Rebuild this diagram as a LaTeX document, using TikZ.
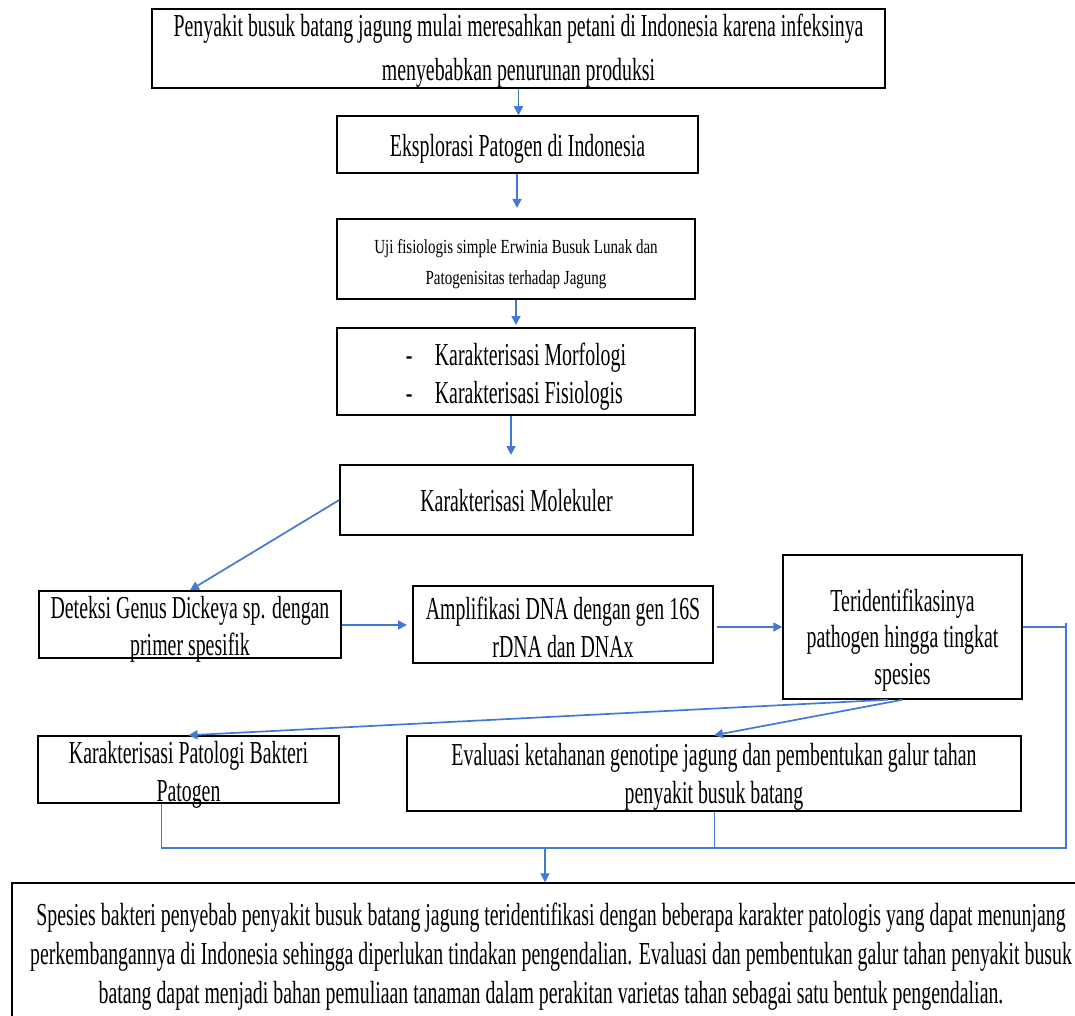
\documentclass[tikz,border=0pt]{standalone}
\usepackage{fontspec}
\setmainfont{Liberation Serif}[FakeStretch=0.62]
\newfontfamily\smallserif{Liberation Serif}[FakeStretch=0.75]
\usetikzlibrary{arrows.meta}
\definecolor{conn}{RGB}{66,120,215}
\newcommand\tx[3]{\raisebox{#1}[0pt][0pt]{\begin{tabular}[t]{@{}#2@{}}#3\end{tabular}}}
\begin{document}
\begin{tikzpicture}[x=1pt,y=-1pt,
  box/.style={draw=black,line width=1.5pt,inner sep=0pt,font=\fontsize{32}{38}\selectfont},
  arr/.style={draw=conn,line width=1.7pt,-{Triangle[length=9pt,width=9pt]}},
  ln/.style={draw=conn,line width=1.7pt}]
\clip (0,0) rectangle (1075,1016);
\fill[white] (0,0) rectangle (1075,1016);

\node[box,minimum width=733pt,minimum height=79pt,font=\fontsize{32}{43.5}\selectfont] (b1) at (518.5,48.5)
  {\tx{11.8pt}{c}{Penyakit busuk batang jagung mulai meresahkan petani di Indonesia karena infeksinya\\menyebabkan penurunan produksi}};
\node[box,minimum width=361pt,minimum height=57pt] (b2) at (517.5,144.5) {\tx{-12.5pt}{c}{Eksplorasi Patogen di Indonesia}};
\node[box,minimum width=358pt,minimum height=80pt,font=\smallserif\fontsize{20}{31}\selectfont] (b3) at (516,259)
  {\tx{6pt}{c}{Uji fisiologis simple Erwinia Busuk Lunak dan\\Patogenisitas terhadap Jagung}};
\node[box,minimum width=358pt,minimum height=87pt] (b4) at (516,371.5)
  {\tx{6.5pt}{l}{\makebox[29pt][l]{-}Karakterisasi Morfologi\\\makebox[29pt][l]{-}Karakterisasi Fisiologis}};
\node[box,minimum width=353pt,minimum height=70pt] (b5) at (516.5,500) {\tx{-11.7pt}{c}{Karakterisasi Molekuler}};
\node[box,minimum width=302pt,minimum height=67pt,font=\fontsize{32}{37.5}\selectfont] (b6) at (190,624.5)
  {\tx{6.5pt}{c}{Deteksi Genus Dickeya sp. dengan\\primer spesifik}};
\node[box,minimum width=300pt,minimum height=77pt] (b7) at (563,624.5)
  {\tx{5.5pt}{c}{Amplifikasi DNA dengan gen 16S\\rDNA dan DNAx}};
\node[box,minimum width=239pt,minimum height=144pt,font=\fontsize{32}{36.5}\selectfont] (b8) at (902.5,627)
  {\tx{16pt}{c}{Teridentifikasinya\\pathogen hingga tingkat\\spesies}};
\node[box,minimum width=301pt,minimum height=67pt] (pat) at (188.5,769.5)
  {\tx{6.5pt}{c}{Karakterisasi Patologi Bakteri\\Patogen}};
\node[box,minimum width=614pt,minimum height=75pt] (eva) at (714,773.5)
  {\tx{8.5pt}{c}{Evaluasi ketahanan genotipe jagung dan pembentukan galur tahan\\penyakit busuk batang}};
\node[box,minimum width=1078pt,minimum height=147pt,font=\fontsize{32}{39}\selectfont] (fin) at (551,956.5)
  {\tx{31.5pt}{c}{Spesies bakteri penyebab penyakit busuk batang jagung teridentifikasi dengan beberapa karakter patologis yang dapat menunjang\\
   perkembangannya di Indonesia sehingga diperlukan tindakan pengendalian. Evaluasi dan pembentukan galur tahan penyakit busuk\\
   batang dapat menjadi bahan pemuliaan tanaman dalam perakitan varietas tahan sebagai satu bentuk pengendalian.}};

\coordinate (lc) at (161,848);
\coordinate (rc) at (1066,848);
\coordinate (mc) at (545,848);
\coordinate (t23) at (517,208);
\coordinate (t34) at (516,325);
\coordinate (t45) at (511,455);
\coordinate (t67) at (407,625);
\coordinate (s78) at (717,627);

\draw[arr] (b1.south) -- (b1.south |- b2.north);
\draw[arr] (b2.south -| t23) -- (t23);
\draw[arr] (b3.south -| t34) -- (t34);
\draw[arr] (b4.south -| t45) -- (t45);
\draw[arr] (b5.west) -- (b6.north);
\draw[arr] (b6.east |- t67) -- (t67);
\draw[arr] (s78) -- (b8.west);
\draw[arr] ([xshift=-15pt]b8.south) -- (pat.north);
\draw[arr] (b8.south) -- (eva.north);
\draw[ln] (b8.east) -- (b8.east -| rc);
\draw[ln] ([yshift=4pt]b8.east -| rc) -- (rc) -- (lc);
\draw[ln,line width=1pt] (pat.south -| lc) -- (lc);
\draw[ln,line width=1pt] (eva.south) -- (eva.south |- lc);
\draw[arr] (mc) -- (mc |- fin.north);
\end{tikzpicture}
\end{document}
